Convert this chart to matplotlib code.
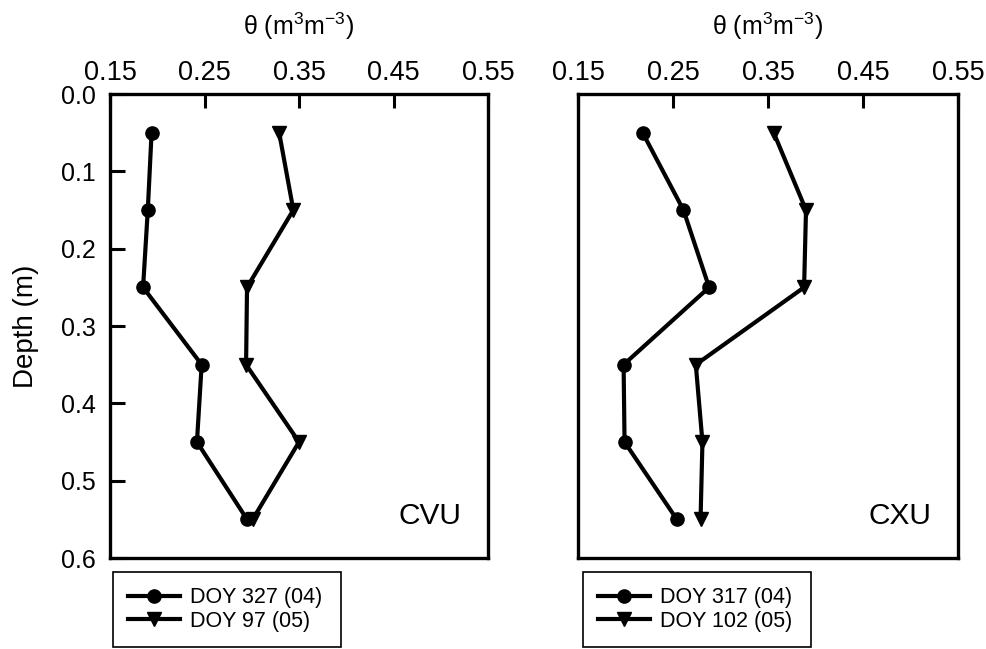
import matplotlib.pyplot as plt

plt.rcParams['font.family'] = ['Liberation Sans', 'DejaVu Sans']
plt.rcParams['mathtext.fontset'] = 'custom'
plt.rcParams['mathtext.rm'] = 'Liberation Sans'
plt.rcParams['mathtext.it'] = 'Liberation Sans'

depth = [0.05, 0.15, 0.25, 0.35, 0.45, 0.55]

# CVU site
cvu_327 = [0.194, 0.190, 0.185, 0.247, 0.242, 0.295]
cvu_97 = [0.329, 0.344, 0.295, 0.294, 0.350, 0.301]

# CXU site
cxu_317 = [0.218, 0.261, 0.288, 0.198, 0.199, 0.254]
cxu_102 = [0.356, 0.390, 0.388, 0.274, 0.281, 0.279]

panels = [
    ("CVU", cvu_327, cvu_97, "DOY 327 (04)", "DOY 97 (05)"),
    ("CXU", cxu_317, cxu_102, "DOY 317 (04)", "DOY 102 (05)"),
]

xticks = [0.15, 0.25, 0.35, 0.45, 0.55]
yticks = [0.0, 0.1, 0.2, 0.3, 0.4, 0.5, 0.6]

fig = plt.figure(figsize=(9.87, 6.49), dpi=100)
lefts = [110 / 987, 578 / 987]
widths = [378 / 987, 380 / 987]
bottom = 1 - 558 / 649
height = 464 / 649

for i, (site, a, b, la, lb) in enumerate(panels):
    ax = fig.add_axes([lefts[i], bottom, widths[i], height])
    l1, = ax.plot(a, depth, "k-", marker="o", ms=9.5, lw=3.0)
    l2, = ax.plot(b, depth, "k-", marker="v", ms=10.5, lw=3.0)
    ax.set_xlim(0.15, 0.55)
    ax.set_ylim(0.6, 0.0)
    ax.set_xticks(xticks)
    ax.set_xticklabels([f"{t:.2f}" for t in xticks])
    ax.xaxis.tick_top()
    ax.xaxis.set_label_position("top")
    ax.set_xlabel(r"θ (m$^3$m$^{-3}$)", fontsize=18, labelpad=18)
    ax.tick_params(axis="x", direction="in", length=10, width=2.2,
                   labelsize=19.5, pad=6)
    for s in ax.spines.values():
        s.set_linewidth(2.4)
    if i == 0:
        ax.set_yticks(yticks)
        ax.set_yticklabels([f"{t:.1f}" for t in yticks])
        ax.tick_params(axis="y", direction="in", length=11, width=2.2,
                       labelsize=18, pad=10)
        ax.set_ylabel("Depth (m)", fontsize=20, labelpad=16)
    else:
        ax.set_yticks([])
    ax.text(0.93, 0.09, site, transform=ax.transAxes, fontsize=21.5,
            ha="right", va="center")

    x0 = (113 if i == 0 else 583) / 987
    leg = fig.legend([l1, l2], [la, lb], loc="upper left",
                     bbox_to_anchor=(x0, 1 - 572 / 649, 228 / 987, 0.0),
                     mode="expand", fontsize=15.5, handlelength=2.4,
                     handletextpad=0.5, borderpad=0.7, labelspacing=0.12,
                     borderaxespad=0, fancybox=False, framealpha=1,
                     edgecolor="black")
    leg.get_frame().set_linewidth(1.2)

fig.savefig("out.png", dpi=100)
